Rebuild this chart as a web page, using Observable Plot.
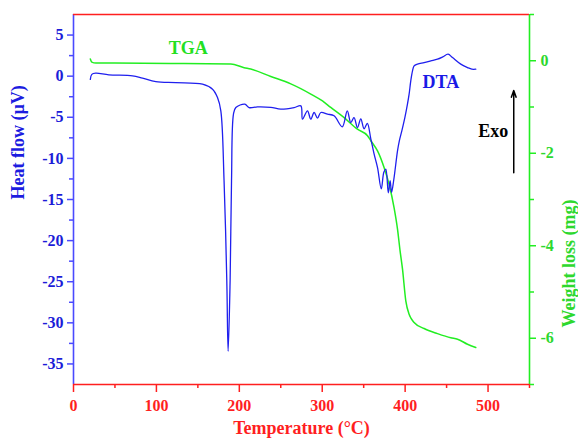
<!DOCTYPE html>
<html>
<head>
<meta charset="utf-8">
<script src="https://cdn.jsdelivr.net/npm/d3@7"></script>
<script src="https://cdn.jsdelivr.net/npm/@observablehq/plot@0.6"></script>
<style>
  html, body { margin: 0; padding: 0; background: white; }
</style>
</head>
<body>
<div id="chart"></div>
<script>
// DTA (heat flow, µV) vs temperature (°C)
const dtaTemp = [20.3, 22.1, 26.9, 42.6, 71.2, 83.2, 99.3, 123.4, 155.6, 167.7, 173.7, 177.7, 181.6, 184.9, 186.5, 188.9, 190.6, 193.0, 195.8, 206.6, 211.8, 221.9, 238.0, 250.0, 266.1, 274.2, 276.2, 282.2, 286.2, 290.2, 294.3, 298.3, 306.4, 314.3, 324.2, 330.2, 334.5, 338.4, 342.5, 346.5, 350.5, 354.4, 358.6, 362.6, 366.7, 371.2, 374.3, 376.7, 379.7, 381.9, 383.6, 386.3, 390.8, 393.0, 396.0, 399.6, 402.8, 404.8, 406.8, 408.9, 410.8, 414.9, 422.9, 431.0, 439.0, 445.4, 451.8, 457.1, 467.1, 475.2, 480.4, 485.2];
const dtaHeat = [-0.39, 0.22, 0.36, 0.16, 0.04, -0.24, -0.66, -0.78, -0.97, -1.58, -2.60, -4.22, -12.72, -24.88, -33.47, -24.88, -12.72, -4.58, -3.82, -3.40, -3.82, -3.73, -3.79, -4.01, -3.82, -3.61, -5.23, -4.22, -5.23, -4.42, -5.10, -4.42, -4.62, -4.82, -6.16, -4.22, -5.64, -5.03, -6.25, -5.19, -6.40, -5.74, -7.62, -9.48, -11.11, -13.70, -11.69, -11.30, -14.18, -12.72, -14.12, -12.60, -9.08, -7.86, -6.65, -5.07, -3.40, -2.19, -0.57, 0.64, 1.25, 1.46, 1.65, 1.86, 2.07, 2.35, 2.67, 2.26, 1.46, 1.05, 0.85, 0.85];

// TGA (weight loss, mg) vs temperature (°C)
const tgaTemp = [20.3, 22.1, 26.9, 36.9, 117.4, 189.7, 205.8, 213.8, 238.0, 262.1, 286.2, 300.3, 310.3, 326.4, 342.5, 354.6, 358.6, 366.7, 374.6, 380.6, 386.7, 390.8, 393.9, 396.8, 400.8, 404.8, 406.8, 410.8, 422.9, 439.0, 455.1, 463.2, 475.2, 485.2];
const tgaWeight = [0.04, -0.03, -0.05, -0.05, -0.06, -0.07, -0.15, -0.18, -0.34, -0.50, -0.72, -0.87, -1.01, -1.23, -1.48, -1.62, -1.73, -1.95, -2.31, -2.67, -3.18, -3.64, -4.11, -4.50, -5.19, -5.48, -5.56, -5.66, -5.79, -5.90, -5.99, -6.02, -6.13, -6.20];

// Axes
const xDomain = [0, 550];
const heatDomain = [-37.5, 7.5];
const weightDomain = [-7, 1];
const xMajorTicks = [0, 100, 200, 300, 400, 500];
const xMinorTicks = [50, 150, 250, 350, 450, 550];
const heatMajorTicks = [5, 0, -5, -10, -15, -20, -25, -30, -35];
const heatMinorTicks = [2.5, -2.5, -7.5, -12.5, -17.5, -22.5, -27.5, -32.5];
const weightMajorTicks = [0, -2, -4, -6];
const weightMinorTicks = [1, -1, -3, -5, -7];

// Annotations (temperature, heat-flow coordinates)
const labelText = ["TGA", "DTA", "Exo"];
const labelTemp = [138.5, 443, 506.4];
const labelHeat = [3.44, -0.69, -6.65];
const labelColor = ["#22e022", "#1a1ae6", "#000000"];
const arrowTemp = [531];
const arrowFrom = [-11.75];
const arrowTo = [-1.75];

const RED = "#ff1f1f", BLUE_LINE = "#4a4aff", BLUE_TXT = "#1c1cd8", GREEN = "#22ee22", GREEN_TXT = "#2ed82e";
const FONT = "Liberation Serif, Times New Roman, serif";

// map weight (right axis) into heat-flow (left) scale space
const w2h = w => heatDomain[0] + (w - weightDomain[0]) * (heatDomain[1] - heatDomain[0]) / (weightDomain[1] - weightDomain[0]);
const h2w = h => weightDomain[0] + (h - heatDomain[0]) * (weightDomain[1] - weightDomain[0]) / (heatDomain[1] - heatDomain[0]);

const dta = dtaTemp.map((t, i) => ({t, v: dtaHeat[i]}));
const tga = tgaTemp.map((t, i) => ({t, v: w2h(tgaWeight[i])}));
const labels = labelText.map((s, i) => ({s, t: labelTemp[i], v: labelHeat[i], c: labelColor[i]}));
const arrows = arrowTemp.map((t, i) => ({t, y1: arrowFrom[i], y2: arrowTo[i]}));

const fmt = d => String(d);

const chart = Plot.plot({
  width: 578,
  height: 438,
  marginLeft: 73,
  marginRight: 49,
  marginTop: 14,
  marginBottom: 54,
  x: {domain: xDomain},
  y: {domain: heatDomain},
  style: {fontFamily: FONT, fontWeight: "bold", fontSize: "16px", background: "white", overflow: "visible"},
  marks: [
    // axes: ticks + labels
    Plot.axisX(xMajorTicks, {anchor: "bottom", tickSize: 8, tickPadding: 7, stroke: RED, fill: RED, strokeWidth: 1.5, tickFormat: fmt, label: null, fontSize: 16, fontWeight: "bold", fontFamily: FONT}),
    Plot.axisX(xMinorTicks, {anchor: "bottom", tickSize: 4, stroke: RED, strokeWidth: 1.5, tickFormat: () => "", label: null}),
    Plot.axisY(heatMajorTicks, {anchor: "left", tickSize: 6, tickPadding: 4, stroke: BLUE_LINE, fill: BLUE_TXT, strokeWidth: 1.5, tickFormat: fmt, label: null, fontSize: 16, fontWeight: "bold", fontFamily: FONT}),
    Plot.axisY(heatMinorTicks, {anchor: "left", tickSize: 4, stroke: BLUE_LINE, strokeWidth: 1.5, tickFormat: () => "", label: null}),
    Plot.axisY(weightMajorTicks.map(w2h), {anchor: "right", tickSize: 6, tickPadding: 5, stroke: GREEN, fill: GREEN_TXT, strokeWidth: 1.5, tickFormat: d => fmt(Math.round(h2w(d))), label: null, fontSize: 16, fontWeight: "bold", fontFamily: FONT}),
    Plot.axisY(weightMinorTicks.map(w2h), {anchor: "right", tickSize: 4, stroke: GREEN, strokeWidth: 1.5, tickFormat: () => "", label: null}),
    // frame
    Plot.ruleX([xDomain[0]], {stroke: BLUE_LINE, strokeWidth: 1.6}),
    Plot.ruleX([xDomain[1]], {stroke: GREEN, strokeWidth: 1.6}),
    Plot.ruleY([heatDomain[1]], {stroke: RED, strokeWidth: 1.6}),
    Plot.ruleY([heatDomain[0]], {stroke: RED, strokeWidth: 1.6}),
    // series
    Plot.line(tga, {x: "t", y: "v", stroke: GREEN, strokeWidth: 1.5, curve: "monotone-x"}),
    Plot.line(dta, {x: "t", y: "v", stroke: "#1f1fee", strokeWidth: 1.3, curve: "catmull-rom"}),
    // annotations
    Plot.text(labels, {x: "t", y: "v", text: "s", fill: "c", fontSize: 18, fontWeight: "bold", fontFamily: FONT, textAnchor: "middle", lineAnchor: "middle"}),
    Plot.arrow(arrows, {x1: "t", x2: "t", y1: "y1", y2: "y2", stroke: "black", strokeWidth: 1.5, headLength: 7, headAngle: 40}),
    // axis titles
    Plot.text(["Temperature (°C)"], {frameAnchor: "bottom", dy: 44, fill: RED, fontSize: 18, fontWeight: "bold", fontFamily: FONT, lineAnchor: "middle"}),
    Plot.text(["Heat flow (µV)"], {frameAnchor: "left", dx: -55, rotate: -90, fill: "#1c1ce0", fontSize: 18, fontWeight: "bold", fontFamily: FONT, lineAnchor: "middle"}),
    Plot.text(["Weight loss (mg)"], {frameAnchor: "right", dx: 40, rotate: -90, fill: GREEN_TXT, fontSize: 18, fontWeight: "bold", fontFamily: FONT, lineAnchor: "middle"})
  ]
});
document.getElementById("chart").appendChild(chart);
</script>
</body>
</html>
